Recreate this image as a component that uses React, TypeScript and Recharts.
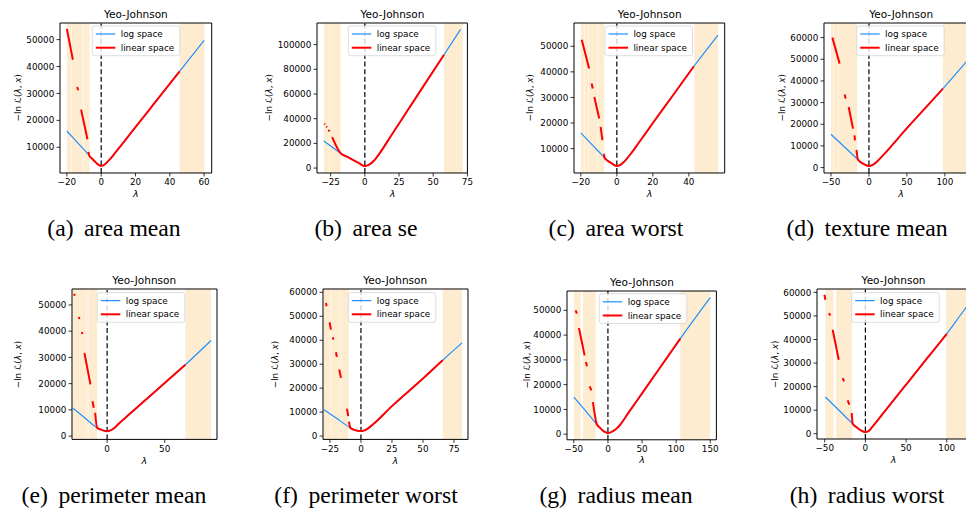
import React from 'react';
import { ComposedChart, Line, XAxis, YAxis, ReferenceArea, ReferenceLine } from 'recharts';

// ---------------- data ----------------
// (a) area mean
const aLogX = [-20, -15, -10, -7, -5, -3, -1.5, 0, 1.5, 3, 5, 8, 12, 20, 30, 45.7, 60];
const aLogY = [16050, 12580, 9110, 7030, 5600, 4300, 3500, 3100, 3400, 4200, 5500, 7800, 11000, 17470, 25540, 38200, 49740];
const aLinX = [-20, -16.5, -15.2, -14.0, -13.4, -12.5, -11.7, -8.0, -7.7, -7.4, -7, -5, -3, -1.5, 0, 1.5, 3, 5, 8, 12, 20, 30, 45.7];
const aLinY = [54000, 42500, null, 32400, 31200, null, 24000, 13000, null, 8300, 7030, 5600, 4300, 3500, 3100, 3400, 4200, 5500, 7800, 11000, 17470, 25540, 38200];
const aBands = [[-20, -17.6], [-17.3, -10.4], [-10.1, -6.8], [45.7, 60.2]];
const aXTicks = [-20, 0, 20, 40, 60];
const aYTicks = [10000, 20000, 30000, 40000, 50000];

// (b) area se
const bLogX = [-30, -24, -17.8, -12, -6, -3.7, -2, -1, 0, 1, 2, 4, 6, 8, 10, 20, 30, 40, 57.9, 70];
const bLogY = [21900, 17030, 12150, 8620, 4970, 3560, 2400, 1800, 1600, 1750, 2200, 3400, 5300, 7700, 10660, 27600, 44540, 61480, 91800, 112300];
const bLinX = [-29.6, -29.2, -28.7, -28.2, -27.7, -27.2, -26.6, -25.9, -25.0, -23.9, -17.8, -12, -6, -3.7, -2, -1, 0, 1, 2, 4, 6, 8, 10, 20, 30, 40, 57.9];
const bLinY = [35950, 35300, null, 33700, 32900, null, 30900, 29700, null, 25100, 12150, 8620, 4970, 3560, 2400, 1800, 1600, 1750, 2200, 3400, 5300, 7700, 10660, 27600, 44540, 61480, 91800];
const bBands = [[-30, -26.1], [-25.8, -17.8], [57.9, 71.5]];
const bXTicks = [-25, 0, 25, 50, 75];
const bYTicks = [0, 20000, 40000, 60000, 80000, 100000];

// (c) area worst
const cLogX = [-20, -15, -10, -6.9, -5, -3, -1.5, 0, 1.5, 3, 5, 8, 12, 20, 30, 42.8, 56.1];
const cLogY = [16130, 12460, 8790, 6520, 5200, 4300, 3600, 3240, 3500, 4200, 5600, 8200, 12100, 20000, 29700, 42190, 54300];
const cLinX = [-19.5, -15.4, -14.7, -14.0, -13.4, -13.0, -12.5, -9.8, -9.4, -9.0, -8.0, -7.5, -7.1, -6.9, -5, -3, -1.5, 0, 1.5, 3, 5, 8, 12, 20, 30, 42.8];
const cLinY = [52600, 41290, null, 35430, 33500, null, 30200, 21760, null, 18470, 13280, null, 8000, 6520, 5200, 4300, 3600, 3240, 3500, 4200, 5600, 8200, 12100, 20000, 29700, 42190];
const cBands = [[-20, -18.0], [-17.8, -15.8], [-15.6, -10.8], [-10.6, -7.0], [43.0, 56.3]];
const cXTicks = [-20, 0, 20, 40];
const cYTicks = [10000, 20000, 30000, 40000, 50000];

// (d) texture mean
const dLogX = [-50, -30, -14.5, -10, -6, -3, 0, 5, 10, 20, 50, 75, 97.4, 115, 134];
const dLogY = [15370, 8790, 3690, 2300, 1500, 1000, 740, 1300, 2600, 6200, 18200, 27800, 36460, 43500, 51200];
const dLinX = [-48.2, -38.6, -35, -32, -30.7, -28.7, -26.7, -21.0, -20, -19, -18.4, -17.4, -16.4, -14.5, -10, -6, -3, 0, 5, 10, 20, 50, 75, 97.4];
const dLinY = [60000, 48000, null, 33700, 31840, null, 27960, 18000, null, 14900, 12600, null, 8200, 3690, 2300, 1500, 1000, 740, 1300, 2600, 6200, 18200, 27800, 36460];
const dBands = [[-50, -47.2], [-46.8, -40.6], [-40.2, -15.3], [97.4, 150]];
const dXTicks = [-50, 0, 50, 100];
const dYTicks = [0, 10000, 20000, 30000, 40000, 50000, 60000];

// (e) perimeter mean
const eLogX = [-30, -20, -8.7, -6, -3, 0, 3, 6, 10, 20, 30, 50, 67.9, 90.2];
const eLogY = [10760, 7190, 3160, 2600, 2100, 1900, 2200, 3000, 4700, 8610, 12490, 20250, 27200, 36460];
const eLinX = [-28.6, -28.2, -26.4, -24.5, -24.1, -22.8, -21.9, -21.5, -20.6, -19.7, -14.5, -13.6, -12.7, -11.6, -11.0, -10.4, -8.7, -6, -3, 0, 3, 6, 10, 20, 30, 50, 67.9];
const eLinY = [54300, 53500, null, 45400, 44600, null, 39700, 38900, null, 31700, 19700, null, 13300, 10800, null, 8900, 3160, 2600, 2100, 1900, 2200, 3000, 4700, 8610, 12490, 20250, 27200];
const eBands = [[-30, -18.4], [-18.0, -16.7], [-16.3, -8.7], [67.9, 90.2]];
const eXTicks = [0, 50];
const eYTicks = [0, 10000, 20000, 30000, 40000, 50000];

// (f) perimeter worst
const fLogX = [-30.1, -20, -8.6, -6, -3, 0, 3, 6, 10, 25, 50, 65.9, 81.5];
const fLogY = [11110, 7520, 3470, 2700, 2250, 2080, 2400, 3300, 5000, 12500, 24000, 31670, 38890];
const fLinX = [-28.2, -27.7, -26.5, -25.3, -24.2, -23.4, -22.6, -22.3, -21.2, -20.2, -19.4, -18.4, -17.5, -16.1, -13.7, -11.3, -10.2, -9.9, -9.6, -8.6, -6, -3, 0, 3, 6, 10, 25, 50, 65.9];
const fLinY = [55550, 54170, null, 47500, 44440, null, 41250, 40280, null, 35000, 33060, null, 27780, 24300, null, 11390, 8330, null, 6000, 3470, 2700, 2250, 2080, 2400, 3300, 5000, 12500, 24000, 31670];
const fBands = [[-30.1, -24.4], [-24.0, -16.9], [-16.5, -9.9], [65.9, 81.5]];
const fXTicks = [-25, 0, 25, 50, 75];
const fYTicks = [0, 10000, 20000, 30000, 40000, 50000, 60000];

// (g) radius mean
const gLogX = [-50, -30, -16.1, -12, -8, -4, 0, 4, 8, 12, 17.1, 30, 50, 75, 106.1, 150];
const gLogY = [14960, 8520, 3920, 2700, 1600, 850, 500, 750, 1300, 2100, 3520, 8600, 16480, 26330, 38580, 55150];
const gLinX = [-47.4, -45.5, -44, -42.5, -34.2, -33.2, -32.2, -30.8, -28.8, -26.8, -24.3, -23.2, -22.0, -16.1, -12, -8, -4, 0, 4, 8, 12, 17.1, 30, 50, 75, 106.1];
const gLinY = [50000, 48690, null, 42860, 31820, null, 29110, 27370, null, 19290, 17670, null, 12940, 3920, 2700, 1600, 850, 500, 750, 1300, 2100, 3520, 8600, 16480, 26330, 38580];
const gBands = [[-49.9, -40.0], [-36.7, -18.0], [106.1, 150.1]];
const gXTicks = [-50, 0, 50, 100, 150];
const gYTicks = [0, 10000, 20000, 30000, 40000, 50000];

// (h) radius worst
const hLogX = [-49.2, -30, -15.6, -10, -5, -2, 0, 3, 6, 9, 15, 25, 50, 75, 100, 119.6, 125];
const hLogY = [15580, 9090, 4250, 2500, 1300, 850, 720, 1000, 1800, 3110, 5700, 10020, 20820, 31620, 42420, 51680, 54200];
const hLinX = [-50.4, -49.2, -46.9, -44.6, -43.4, -41.8, -40.2, -32.8, -30.4, -27.9, -26.2, -24, -21.8, -19.7, -18.2, -16.8, -15.6, -10, -5, -2, 0, 3, 6, 9, 15, 25, 50, 75, 100];
const hLinY = [59020, 56900, null, 51250, 50100, null, 44160, 31420, null, 23650, 22200, null, 14140, 12310, null, 8790, 4250, 2500, 1300, 850, 720, 1000, 1800, 3110, 5700, 10020, 20820, 31620, 42420];
const hBands = [[-49.2, -39.3], [-36.0, -16.4], [99.2, 140]];
const hXTicks = [-50, 0, 50, 100];
const hYTicks = [0, 10000, 20000, 30000, 40000, 50000, 60000];

const captionLetters = ['(a)', '(b)', '(c)', '(d)', '(e)', '(f)', '(g)', '(h)'];
const captionNames = ['area mean', 'area se', 'area worst', 'texture mean', 'perimeter mean', 'perimeter worst', 'radius mean', 'radius worst'];
const TITLE = 'Yeo-Johnson';
const LEG_LOG = 'log space';
const LEG_LIN = 'linear space';

// ---------------- layout (page pixel geometry) ----------------
const layout = [
  { L: 60, T: 22.7, R: 211.7, B: 172.7, xd: [-24, 64.4], yd: [450, 56170], ylab: -41.7, legL: 92.3, capC: 114, capBase: 236 },
  { L: 317.3, T: 22.7, R: 467.7, B: 172.7, xd: [-35, 75], yd: [-4000, 117500], ylab: -48, legL: 348.3, capC: 366, capBase: 236 },
  { L: 574.3, T: 22.7, R: 725, B: 172.7, xd: [-23.8, 59.9], yd: [470, 59100], ylab: -44.3, legL: 605, capC: 616, capBase: 236 },
  { L: 824.3, T: 22.7, R: 978, B: 172.7, xd: [-59.2, 143.2], yd: [-2490, 66740], ylab: -42, legL: 856.7, capC: 867, capBase: 236 },
  { L: 71.7, T: 289.3, R: 216.7, B: 439.7, xd: [-30.5, 95.4], yd: [-1250, 56080], ylab: -54, legL: 97.3, capC: 114, capBase: 502.7 },
  { L: 322.7, T: 289.3, R: 467.7, B: 439.7, xd: [-30.6, 86.3], yd: [-1390, 61390], ylab: -47.7, legL: 348.3, capC: 366, capBase: 502.7 },
  { L: 567.3, T: 290.5, R: 716.7, B: 439.3, xd: [-60, 159], yd: [-2260, 57800], ylab: -40, legL: 599.3, capC: 616, capBase: 502.7 },
  { L: 817.3, T: 289.3, R: 969.8, B: 439.3, xd: [-59.5, 128], yd: [-2250, 61440], ylab: -42.3, legL: 851.7, capC: 867, capBase: 502.7 },
];

const toPts = (xs: number[], ys: (number | null)[]) => xs.map((x, i) => ({ x, y: ys[i] }));

const panels = [
  { log: toPts(aLogX, aLogY), lin: toPts(aLinX, aLinY), bands: aBands, xt: aXTicks, yt: aYTicks },
  { log: toPts(bLogX, bLogY), lin: toPts(bLinX, bLinY), bands: bBands, xt: bXTicks, yt: bYTicks },
  { log: toPts(cLogX, cLogY), lin: toPts(cLinX, cLinY), bands: cBands, xt: cXTicks, yt: cYTicks },
  { log: toPts(dLogX, dLogY), lin: toPts(dLinX, dLinY), bands: dBands, xt: dXTicks, yt: dYTicks },
  { log: toPts(eLogX, eLogY), lin: toPts(eLinX, eLinY), bands: eBands, xt: eXTicks, yt: eYTicks },
  { log: toPts(fLogX, fLogY), lin: toPts(fLinX, fLinY), bands: fBands, xt: fXTicks, yt: fYTicks },
  { log: toPts(gLogX, gLogY), lin: toPts(gLinX, gLinY), bands: gBands, xt: gXTicks, yt: gYTicks },
  { log: toPts(hLogX, hLogY), lin: toPts(hLinX, hLinY), bands: hBands, xt: hXTicks, yt: hYTicks },
];

const FONT = "'DejaVu Sans', sans-serif";
const SERIF = "'Liberation Serif', 'Times New Roman', serif";
const BLUE = '#1e90ff';
const RED = '#ff0000';
const SHADE = '#feecd1';
const TICK_FS = 8.8;
const CAP_FS = 23.7;

const fmt = (v: number) => (v < 0 ? '\u2212' + Math.abs(v) : String(v));

const Y_W = 60;
const M_TOP = 20;
const X_H = 30;
const M_RIGHT = 10;

function Panel({ p, g }: { p: any; g: any }) {
  const plotW = g.R - g.L;
  const plotH = g.B - g.T;
  const W = Y_W + plotW + M_RIGHT;
  const H = M_TOP + plotH + X_H;
  return (
    <div style={{ position: 'absolute', left: g.L - Y_W, top: g.T - M_TOP, width: W, height: H }}>
      <ComposedChart width={W} height={H} margin={{ top: M_TOP, right: M_RIGHT, bottom: 0, left: 0 }}>
        <XAxis
          type="number"
          dataKey="x"
          domain={g.xd}
          allowDataOverflow
          ticks={p.xt}
          interval={0}
          tickFormatter={fmt}
          height={X_H}
          axisLine={false}
          tickSize={3.5}
          tickMargin={2.5}
          tickLine={{ stroke: '#000', strokeWidth: 0.8 }}
          tick={{ fontSize: TICK_FS, fill: '#000', fontFamily: FONT }}
        />
        <YAxis
          type="number"
          domain={g.yd}
          allowDataOverflow
          ticks={p.yt}
          interval={0}
          tickFormatter={fmt}
          width={Y_W}
          axisLine={false}
          tickSize={3.5}
          tickMargin={2.2}
          tickLine={{ stroke: '#000', strokeWidth: 0.8 }}
          tick={{ fontSize: TICK_FS, fill: '#000', fontFamily: FONT }}
        />
        {p.bands.map((b: number[], i: number) => (
          <ReferenceArea key={'b' + i} x1={b[0]} x2={b[1]} fill={SHADE} fillOpacity={1} stroke="none" ifOverflow="hidden" />
        ))}
        <ReferenceLine x={0} stroke="#000" strokeWidth={1.2} strokeDasharray="5 2.6" />
        <Line
          data={p.log}
          dataKey="y"
          type="monotone"
          stroke={BLUE}
          strokeWidth={1.2}
          dot={false}
          activeDot={false}
          isAnimationActive={false}
        />
        <Line
          data={p.lin}
          dataKey="y"
          type="monotone"
          stroke={RED}
          strokeWidth={2}
          dot={false}
          activeDot={false}
          connectNulls={false}
          isAnimationActive={false}
        />
        <ReferenceArea
          x1={g.xd[0]}
          x2={g.xd[1]}
          y1={g.yd[0]}
          y2={g.yd[1]}
          fill="none"
          fillOpacity={0}
          stroke="#000"
          strokeWidth={1}
          ifOverflow="visible"
        />
      </ComposedChart>
    </div>
  );
}

function Overlay() {
  return (
    <svg width={966} height={510} style={{ position: 'absolute', left: 0, top: 0, pointerEvents: 'none' }}>
      {layout.map((g, i) => {
        const cx = (g.L + g.R) / 2;
        const cy = (g.T + g.B) / 2;
        const lx = g.legL;
        const ly = g.T + 3.3;
        return (
          <g key={i} fontFamily={FONT} fill="#000">
            <text x={cx} y={g.T - 9} fontSize={10.5} textAnchor="middle" dominantBaseline="central">
              {TITLE}
            </text>
            <text x={cx} y={g.B + 20.5} fontSize={9.5} textAnchor="middle" dominantBaseline="central" fontStyle="italic">
              λ
            </text>
            <text
              transform={`translate(${g.L + g.ylab},${cy}) rotate(-90)`}
              fontSize={TICK_FS}
              textAnchor="middle"
              dominantBaseline="central"
            >
              <tspan>{'\u2212ln '}</tspan>
              <tspan>{'\u2112'}</tspan>
              <tspan>(</tspan>
              <tspan fontStyle="italic">λ</tspan>
              <tspan>, </tspan>
              <tspan fontStyle="italic">x</tspan>
              <tspan>)</tspan>
            </text>
            <rect x={lx} y={ly} width={87.5} height={29.7} rx={2.5} fill="#fff" fillOpacity={0.8} stroke="#d4d4d4" strokeWidth={0.8} />
            <line x1={lx + 3.5} x2={lx + 23} y1={ly + 8} y2={ly + 8} stroke={BLUE} strokeWidth={1.2} />
            <line x1={lx + 3.5} x2={lx + 23} y1={ly + 21.7} y2={ly + 21.7} stroke={RED} strokeWidth={2} />
            <text x={lx + 28.4} y={ly + 8} fontSize={TICK_FS} dominantBaseline="central">
              {LEG_LOG}
            </text>
            <text x={lx + 28.4} y={ly + 21.7} fontSize={TICK_FS} dominantBaseline="central">
              {LEG_LIN}
            </text>
          </g>
        );
      })}
    </svg>
  );
}

export default function App() {
  return (
    <div style={{ position: 'absolute', left: 0, top: 0, width: 966, height: 510, overflow: 'hidden', background: '#fff' }}>
      {panels.map((p, i) => (
        <Panel key={i} p={p} g={layout[i]} />
      ))}
      <Overlay />
      {layout.map((g, i) => (
        <div
          key={'c' + i}
          style={{
            position: 'absolute',
            left: g.capC - 150,
            width: 300,
            textAlign: 'center',
            top: g.capBase - 20,
            height: 24,
            lineHeight: '24px',
            fontFamily: SERIF,
            fontSize: CAP_FS,
            whiteSpace: 'nowrap',
            color: '#000',
          }}
        >
          <span>{captionLetters[i]}</span>
          <span style={{ marginLeft: 10.5 }}>{captionNames[i]}</span>
        </div>
      ))}
    </div>
  );
}
